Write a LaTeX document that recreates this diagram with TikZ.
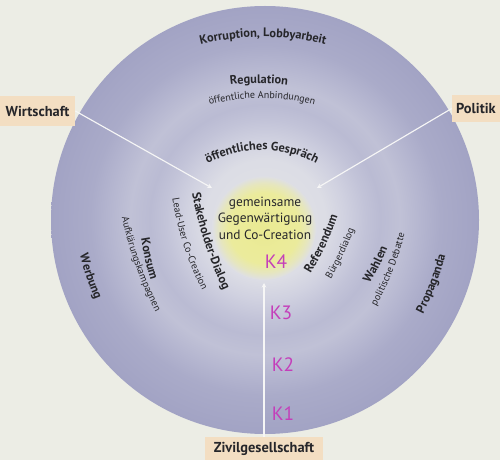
\documentclass[tikz,border=0pt]{standalone}
\usepackage{fontspec}
\setmainfont{PT Sans}
\usetikzlibrary{decorations.text,calc,arrows.meta}
\definecolor{paper}{RGB}{236,237,229}
\definecolor{peach}{RGB}{243,222,194}
\definecolor{txt}{RGB}{38,38,42}
\definecolor{hand}{RGB}{196,62,186}
\definecolor{divline}{RGB}{246,246,246}
\definecolor{r0}{RGB}{224,225,230}
\definecolor{r1}{RGB}{220,221,229}
\definecolor{r2}{RGB}{208,209,224}
\definecolor{r3}{RGB}{194,195,216}
\definecolor{r4}{RGB}{186,187,211}
\definecolor{r5}{RGB}{192,193,214}
\definecolor{r6}{RGB}{181,182,208}
\definecolor{r7}{RGB}{170,171,201}
\definecolor{r8}{RGB}{162,163,196}
\definecolor{y0}{RGB}{234,234,146}
\definecolor{y1}{RGB}{235,235,156}
\definecolor{y2}{RGB}{230,230,190}
\definecolor{y3}{RGB}{222,223,229}
% a path is filled by the inner 50bp square of a shading: 25bp = circle edge
\pgfdeclareradialshading{rings}{\pgfpoint{0bp}{0bp}}{%
color(0bp)=(r0);color(7bp)=(r1);color(9.35bp)=(r2);color(11.7bp)=(r3);%
color(13.45bp)=(r4);color(15.75bp)=(r5);color(18.1bp)=(r6);color(20.45bp)=(r7);%
color(25bp)=(r8);color(50bp)=(r8)}
\pgfdeclareradialshading{yel}{\pgfpoint{0bp}{0bp}}{%
color(0bp)=(y0);color(17bp)=(y1);color(21.5bp)=(y2);color(25bp)=(y3);color(50bp)=(y3)}
\newcommand\fb{\fontsize{7}{8}\selectfont\bfseries}
\newcommand\fr{\fontsize{5.7}{7}\selectfont}
% clockwise arc text (letters outward), #1 baseline middle, #2 normal angle, #3 radius
\newcommand\cwtext[5]{%
  \path[decorate,decoration={text along path,text align=center,text color=txt,text={|#4|#5}}]
    ($(#1)+(#2+180:#3)+(#2+5157/#3:#3)$) arc[start angle=#2+5157/#3,end angle=#2-5157/#3,radius=#3];}
% counter-clockwise arc text (letters toward centre), #1 text middle
\newcommand\ccwtext[5]{%
  \path[decorate,decoration={text along path,text align=center,text color=txt,text={|#4|#5}}]
    ($(#1)+(#2:2.5)+(#2+180:#3)+(#2-5157/#3:#3)$) arc[start angle=#2-5157/#3,end angle=#2+5157/#3,radius=#3];}
\tikzset{
  label box/.style={fill=peach,inner sep=0pt,text=txt,font=\fontsize{8.2}{10}\selectfont\bfseries},
  divider/.style={draw=divline,line width=0.65pt,-{Stealth[length=2.6pt,width=2.6pt]}},
  handmark/.style={text=hand,font=\fontsize{11}{12}\selectfont,inner sep=0pt}
}
\begin{document}
\begin{tikzpicture}[x=0.02cm,y=0.02cm]
\useasboundingbox (0,0) rectangle (500,460);
\fill[paper] (0,0) rectangle (500,460);
% rings
\shade[shading=rings] (265,240) circle[radius=214];
\shade[shading=yel] (264,232) circle[radius=52];
% label boxes
\node[label box,minimum width=1.5cm,minimum height=0.6cm] (wi) at (37.5,349) {Wirtschaft};
\node[label box,minimum width=0.96cm,minimum height=0.54cm] (po) at (476,351.5) {Politik};
\node[label box,minimum width=2.36cm,minimum height=0.46cm] (zi) at (264,11.5) {Zivilgesellschaft};
% divider lines
\coordinate (wiE) at (212,272);
\coordinate (poE) at (317,272);
\coordinate (ziE) at (264,177);
\draw[divider] (wi.east) -- (wiE);
\draw[divider] (po.west) -- (poE);
\draw[divider] (zi.north) -- (ziE);
% centre
\node[align=center,text=txt,font=\fontsize{7.6}{9.4}\selectfont] (core) at (265,242)
  {gemeinsame\\Gegenwärtigung\\und Co-Creation};
% top texts
\cwtext{263,423}{90}{260}{\fb}{Korruption, Lobbyarbeit}
\cwtext{259,377}{90}{220}{\fb}{Regulation}
\cwtext{262,362}{90}{200}{\fr}{öffentliche Anbindungen}
\cwtext{262,310}{90}{115}{\fb}{öffentliches Gespräch}
% left texts
\ccwtext{207,218}{198}{400}{\fb}{Stakeholder-Dialog}
\ccwtext{186,215}{198}{300}{\fr}{Lead-User Co-Creation}
\ccwtext{147.5,201}{193}{300}{\fb}{Konsum}
\ccwtext{138,195}{199.6}{400}{\fr}{Aufklärungskampagnen}
\ccwtext{89,183}{198.4}{300}{\fb}{Werbung}
% right texts
\ccwtext{323.5,215.5}{-25}{300}{\fb}{Referendum}
\ccwtext{341.5,206.5}{-25}{300}{\fr}{Bürgerdialog}
\ccwtext{377,195}{-26.6}{300}{\fb}{Wahlen}
\ccwtext{390.5,190}{-21.4}{300}{\fr}{politische Debatte}
\ccwtext{433.5,175.5}{-21}{300}{\fb}{Propaganda}
% handwritten marks
\node[handmark] (k4) at (276,198) {K4};
\node[handmark] (k3) at (281,147) {K3};
\node[handmark] (k2) at (283,95) {K2};
\node[handmark] (k1) at (283,46) {K1};
\end{tikzpicture}
\end{document}
